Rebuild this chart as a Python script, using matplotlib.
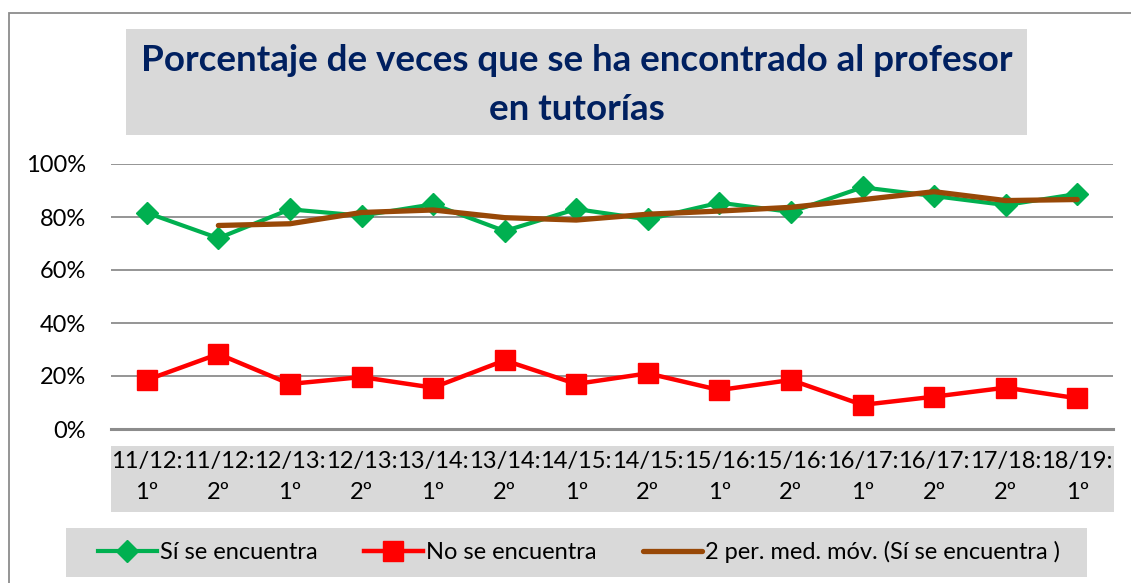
import matplotlib
matplotlib.use("Agg")
import matplotlib.pyplot as plt
from matplotlib.patches import Rectangle
from matplotlib.ticker import PercentFormatter, MultipleLocator
import pandas as pd

# ---- data ----
categories = ["11/12:\n1º", "11/12:\n2º", "12/13:\n1º", "12/13:\n2º", "13/14:\n1º",
              "13/14:\n2º", "14/15:\n1º", "14/15:\n2º", "15/16:\n1º", "15/16:\n2º",
              "16/17:\n1º", "16/17:\n2º", "17/18:\n2º", "18/19:\n1º"]
si_se_encuentra = [81.6, 72.0, 82.9, 80.5, 84.8, 74.7, 83.0, 79.1, 85.4, 81.9, 91.2, 87.9, 84.5, 88.7]
no_se_encuentra = [18.5, 28.3, 17.0, 19.6, 15.6, 25.9, 17.0, 21.0, 14.7, 18.5, 9.1, 12.2, 15.6, 11.6]
moving_avg = pd.Series(si_se_encuentra).rolling(2).mean()

title = "Porcentaje de veces que se ha encontrado al profesor\nen tutorías"
label_si = "Sí se encuentra"
label_no = "No se encuentra"
label_ma = "2 per. med. móv. (Sí se encuentra )"

W, H = 1131, 583
plt.rcParams['font.family'] = ['Lato', 'DejaVu Sans']

fig = plt.figure(figsize=(W / 100, H / 100), dpi=100)

def fx(px):
    return px / W

def fy(py):
    return 1 - py / H

def box(x0, y0, x1, y1, **kw):
    r = Rectangle((fx(x0), fy(y1)), fx(x1) - fx(x0), fy(y0) - fy(y1),
                  transform=fig.transFigure, zorder=-5, **kw)
    fig.patches.append(r)

# outer border
box(9, 13, 1200, 700, facecolor='none', edgecolor='#8c8c8c', linewidth=1.3)
# title box
box(126, 29, 1027, 135, facecolor='#D9D9D9', edgecolor='none')
# x tick label box
box(111, 446, 1114, 512, facecolor='#D9D9D9', edgecolor='none')
# legend box
box(66, 528, 1087, 577, facecolor='#D9D9D9', edgecolor='none')

fig.text(fx(576.5), fy(85), title, ha='center', va='center', fontsize=26.5,
         fontweight='bold', color='#002060', linespacing=1.6)

ax = fig.add_axes([fx(111), fy(429), fx(1113) - fx(111), fy(164) - fy(429)])
ax.set_facecolor('none')
x = list(range(len(categories)))

ax.plot(x, si_se_encuentra, color='#00B050', lw=3.0, marker='D', markersize=11,
        label=label_si, zorder=3)
ax.plot(x, no_se_encuentra, color='#FF0000', lw=3.2, marker='s', markersize=14,
        label=label_no, zorder=3)
ax.plot(x, moving_avg, color='#984807', lw=3.8, label=label_ma, zorder=4,
        solid_capstyle='round')

ax.set_xlim(-0.5, len(categories) - 0.5)
ax.set_ylim(0, 100)
ax.yaxis.set_major_locator(MultipleLocator(20))
ax.yaxis.set_major_formatter(PercentFormatter(100, decimals=0))
ax.grid(axis='y', color='#8c8c8c', lw=1.3)
ax.set_axisbelow(True)
for s in ['top', 'right', 'left']:
    ax.spines[s].set_visible(False)
ax.spines['bottom'].set_color('#8c8c8c')
ax.spines['bottom'].set_linewidth(2.2)
ax.set_xticks(x)
ax.set_xticklabels(categories, linespacing=1.6)
ax.tick_params(axis='x', length=0, pad=16, labelsize=17, colors='black')
ax.tick_params(axis='y', length=0, pad=18, labelsize=17, colors='black')

leg = fig.legend(loc='center', bbox_to_anchor=(fx(579), fy(552)), ncol=3,
                 frameon=False, fontsize=17, handlelength=2.5, handletextpad=0.15,
                 columnspacing=1.95)

fig.savefig('out.png', dpi=100)
